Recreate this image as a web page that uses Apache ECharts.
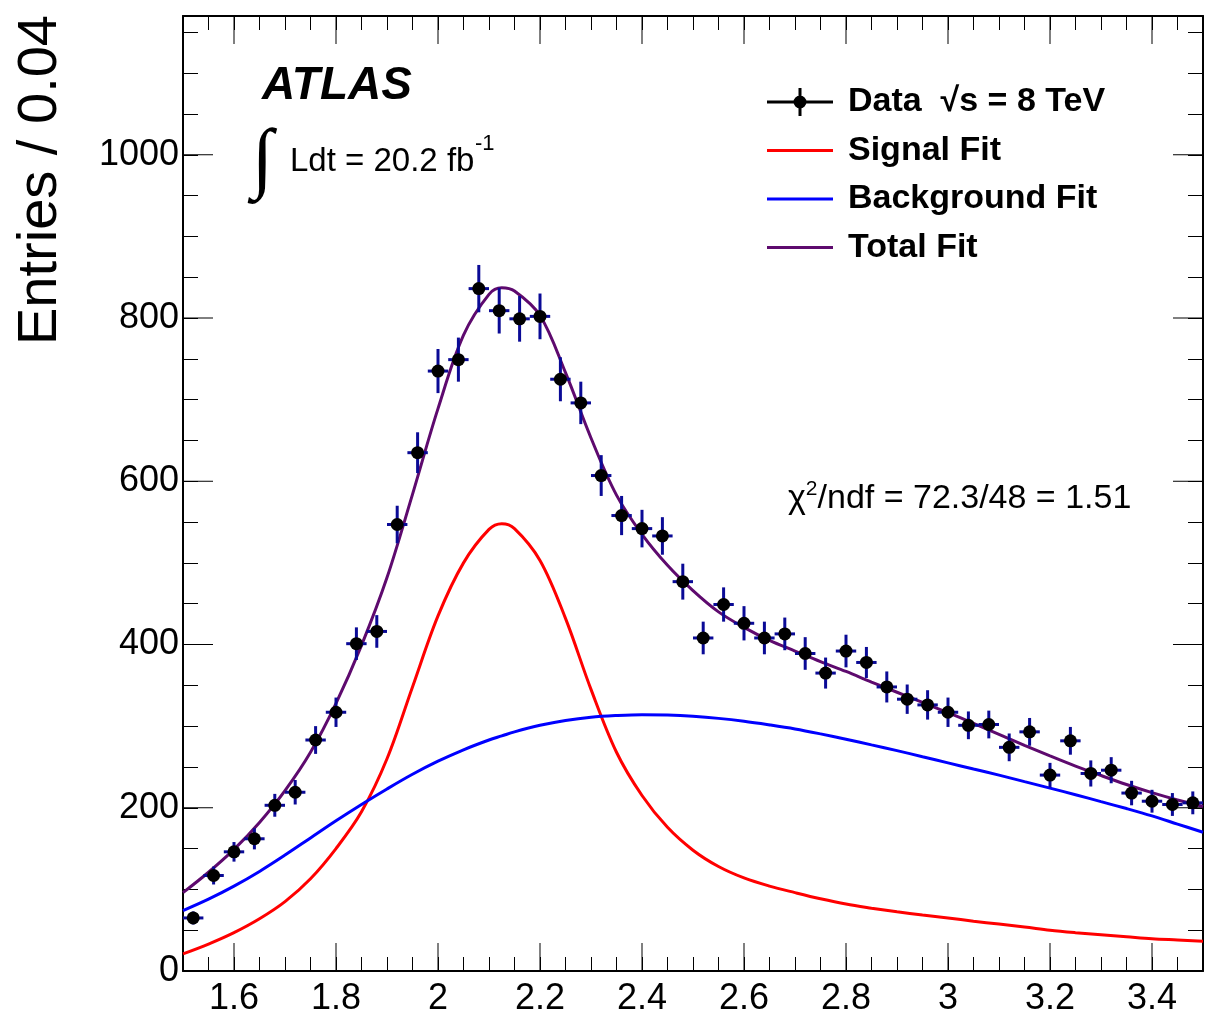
<!DOCTYPE html>
<html><head><meta charset="utf-8">
<script src="https://cdn.jsdelivr.net/npm/echarts@6/dist/echarts.min.js"></script>
<style>html,body{margin:0;padding:0;background:#fff}#c{width:1209px;height:1017px}</style>
</head><body><div id="c"></div><script>
// ---- data ----
const binCenters = [1.52,1.56,1.60,1.64,1.68,1.72,1.76,1.80,1.84,1.88,1.92,1.96,2.00,2.04,2.08,2.12,2.16,2.20,2.24,2.28,2.32,2.36,2.40,2.44,2.48,2.52,2.56,2.60,2.64,2.68,2.72,2.76,2.80,2.84,2.88,2.92,2.96,3.00,3.04,3.08,3.12,3.16,3.20,3.24,3.28,3.32,3.36,3.40,3.44,3.48];
const counts = [65,117,146,162,203,219,283,317,401,416,547,635,735,749,836,809,799,802,725,696,607,558,542,533,477,408,449,426,408,413,389,365,392,378,348,333,326,317,301,302,274,293,240,282,242,246,218,208,204,206];
const countErrors = [8,11,12,13,14,15,17,18,20,20,23,25,27,27,29,28,28,28,27,26,25,24,23,23,22,20,21,21,20,20,20,19,20,19,19,18,18,18,17,17,17,17,15,17,16,16,15,14,14,14];
const halfBinWidth = 0.02;

const curveX = [1.50,1.55,1.60,1.65,1.70,1.75,1.80,1.85,1.90,1.95,2.00,2.05,2.10,2.125,2.15,2.20,2.25,2.30,2.35,2.40,2.45,2.50,2.55,2.60,2.65,2.70,2.75,2.80,2.85,2.90,2.95,3.00,3.05,3.10,3.15,3.20,3.25,3.30,3.35,3.40,3.45,3.50];
const signalFit = [21,33,47,64,85,113,150,195,260,348,435,500,541,548,542,503,432,345,268,215,176,148,128,114,104,96,88.5,82,77,72.5,68.5,65,61,57.5,54,50,47,44.5,42,39.5,38,36.5];
const backgroundFit = [74,88,104,122,142,163,184,204,223,241,257,271,283,288,293,301,307,311,313,314,313.5,312,309.5,306,301.5,296.5,290.5,284,277,270,262.5,255,247.5,240,232,224,216,207.5,199,190,180,170];
const totalFit = [96,121,149,182,221,268,328,399,482,584,689,779,829,837,833,803,733,653,583,535,497,466,440,421,405,392,379,367,354,341.5,329,316.5,303.5,290,276.5,263.5,251,239.5,228.5,218.5,209.5,201.5];

const xMajorTicks = [1.6,1.8,2.0,2.2,2.4,2.6,2.8,3.0,3.2,3.4];
const yMajorTicks = [0,200,400,600,800,1000];
const xMin = 1.5, xMax = 3.5, yMin = 0, yMax = 1170;

const dataName = 'Data  \u221As = 8 TeV';
const FONT = 'Liberation Sans';

const chart = echarts.init(document.getElementById('c'), null, {renderer: 'canvas'});

// legend icons (66 x 28 boxes); tiny corner anchors keep the box size
const anchors = 'M0,0 L0.01,0 L0,0.01 Z M66,28 L65.99,28 L66,27.99 Z ';
const dataIcon = 'path://' + anchors + 'M0,12.5 L66,12.5 L66,15.5 L0,15.5 Z M31.5,0 L34.5,0 L34.5,28 L31.5,28 Z M26.5,14 A6.5,6.5 0 1,1 39.5,14 A6.5,6.5 0 1,1 26.5,14 Z';
const lineIcon = 'path://' + anchors + 'M0,12.5 L66,12.5 L66,15.5 L0,15.5 Z';

function xLabel(v) {
  const r = Math.round(v * 5);
  if (Math.abs(v * 5 - r) > 1e-6) return '';
  return String(Math.round(v * 10) / 10);
}
function yLabel(v) {
  return (Math.abs(v % 200) < 1e-6) ? String(v) : '';
}

const baseX = {
  type: 'value', min: xMin, max: xMax, interval: 0.05,
  axisLine: {show: true, onZero: false, lineStyle: {color: '#000', width: 2}},
  axisTick: {show: true, inside: true, length: 14, lineStyle: {color: '#000', width: 1}},
  splitLine: {show: false}
};
const baseY = {
  type: 'value', min: yMin, max: yMax, interval: 50,
  axisLine: {show: true, onZero: false, lineStyle: {color: '#000', width: 2}},
  axisTick: {show: true, inside: true, length: 15, lineStyle: {color: '#000', width: 1}},
  splitLine: {show: false}
};

function tickLine(x1, y1, x2, y2) {
  return {type: 'line', shape: {x1: x1, y1: y1, x2: x2, y2: y2}, style: {stroke: '#000', lineWidth: 1}};
}

chart.setOption({
  animation: false,
  backgroundColor: '#fff',
  grid: {left: 183, right: 6, top: 16, bottom: 44, containLabel: false},
  xAxis: [
    Object.assign({}, baseX, {position: 'bottom',
      axisLabel: {formatter: xLabel, fontSize: 36, fontFamily: FONT, color: '#000', margin: 10}}),
    Object.assign({}, baseX, {position: 'top', axisLabel: {show: false}})
  ],
  yAxis: [
    Object.assign({}, baseY, {position: 'left',
      axisLabel: {formatter: yLabel, fontSize: 36, fontFamily: FONT, color: '#000', margin: 4}}),
    Object.assign({}, baseY, {position: 'right', axisLabel: {show: false}})
  ],
  legend: {
    orient: 'vertical', left: 767, top: 85, padding: 0,
    itemWidth: 66, itemHeight: 28, itemGap: 14.5,
    selectedMode: false,
    textStyle: {fontSize: 34, fontWeight: 'bold', fontFamily: FONT, color: '#000', padding: [0, 0, 0, 10]},
    data: [
      {name: dataName, icon: dataIcon},
      {name: 'Signal Fit', icon: lineIcon},
      {name: 'Background Fit', icon: lineIcon},
      {name: 'Total Fit', icon: lineIcon}
    ]
  },
  series: [
    {
      type: 'custom', name: 'xMajorTicks', silent: true, clip: false,
      data: xMajorTicks.map(v => [v, yMin]),
      encode: {x: 0, y: 1},
      renderItem: function (params, api) {
        const x = api.value(0);
        const pb = api.coord([x, yMin]);
        const pt = api.coord([x, yMax]);
        return {type: 'group', children: [
          tickLine(pb[0], pb[1], pb[0], pb[1] - 28),
          tickLine(pt[0], pt[1], pt[0], pt[1] + 28)
        ]};
      },
      z: 1
    },
    {
      type: 'custom', name: 'yMajorTicks', silent: true, clip: false,
      data: yMajorTicks.map(v => [xMin, v]),
      encode: {x: 0, y: 1},
      renderItem: function (params, api) {
        const y = api.value(1);
        const pl = api.coord([xMin, y]);
        const pr = api.coord([xMax, y]);
        return {type: 'group', children: [
          tickLine(pl[0], pl[1], pl[0] + 30, pl[1]),
          tickLine(pr[0], pr[1], pr[0] - 30, pr[1])
        ]};
      },
      z: 1
    },
    {
      type: 'line', name: 'Signal Fit', data: curveX.map((x, i) => [x, signalFit[i]]),
      showSymbol: false, symbol: 'none', smooth: 0.35,
      lineStyle: {color: '#ff0000', width: 3}, itemStyle: {color: '#ff0000'}, z: 2
    },
    {
      type: 'line', name: 'Background Fit', data: curveX.map((x, i) => [x, backgroundFit[i]]),
      showSymbol: false, symbol: 'none', smooth: 0.35,
      lineStyle: {color: '#0000ff', width: 3}, itemStyle: {color: '#0000ff'}, z: 2
    },
    {
      type: 'line', name: 'Total Fit', data: curveX.map((x, i) => [x, totalFit[i]]),
      showSymbol: false, symbol: 'none', smooth: 0.35,
      lineStyle: {color: '#5e0a6e', width: 3}, itemStyle: {color: '#5e0a6e'}, z: 2
    },
    {
      type: 'custom', name: 'errors', silent: true,
      data: binCenters.map((x, i) => [x, counts[i], countErrors[i]]),
      encode: {x: 0, y: 1},
      renderItem: function (params, api) {
        const x = api.value(0), y = api.value(1), e = api.value(2);
        const l = api.coord([x - halfBinWidth, y]);
        const r = api.coord([x + halfBinWidth, y]);
        const t = api.coord([x, y + e]);
        const b = api.coord([x, y - e]);
        const st = {stroke: '#0a0a96', lineWidth: 3};
        return {type: 'group', children: [
          {type: 'line', shape: {x1: l[0], y1: l[1], x2: r[0], y2: r[1]}, style: st},
          {type: 'line', shape: {x1: t[0], y1: t[1], x2: b[0], y2: b[1]}, style: st}
        ]};
      },
      z: 3
    },
    {
      type: 'scatter', name: dataName, data: binCenters.map((x, i) => [x, counts[i]]),
      symbol: 'circle', symbolSize: 13, itemStyle: {color: '#000', opacity: 1}, z: 4
    }
  ],
  graphic: [
    {type: 'text', x: 41, y: 180, rotation: Math.PI / 2,
     style: {text: 'Entries / 0.04', font: '56px "Liberation Sans"', fill: '#000', textAlign: 'center', textVerticalAlign: 'middle'}},
    {type: 'text', x: 262, y: 86,
     style: {text: 'ATLAS', font: 'italic bold 46px "Liberation Sans"', fill: '#000', textAlign: 'left', textVerticalAlign: 'middle'}},
    {type: 'text', x: 252, y: 163,
     style: {text: '\u222B', font: 'bold 78px "Liberation Serif"', fill: '#000', textAlign: 'left', textVerticalAlign: 'middle'}},
    {type: 'text', x: 290, y: 162,
     style: {text: 'Ldt = 20.2 fb', font: '33px "Liberation Sans"', fill: '#000', textAlign: 'left', textVerticalAlign: 'middle'}},
    {type: 'text', x: 475, y: 144,
     style: {text: '-1', font: '22px "Liberation Sans"', fill: '#000', textAlign: 'left', textVerticalAlign: 'middle'}},
    {type: 'text', x: 788, y: 479,
     style: {text: '{a|\u03C7}{s|2}{a|/ndf = 72.3/48 = 1.51}', fill: '#000',
       rich: {a: {fontSize: 34, fontFamily: FONT, lineHeight: 40}, s: {fontSize: 21, fontFamily: FONT, lineHeight: 23, verticalAlign: 'top'}}}}
  ]
});
</script></body></html>
